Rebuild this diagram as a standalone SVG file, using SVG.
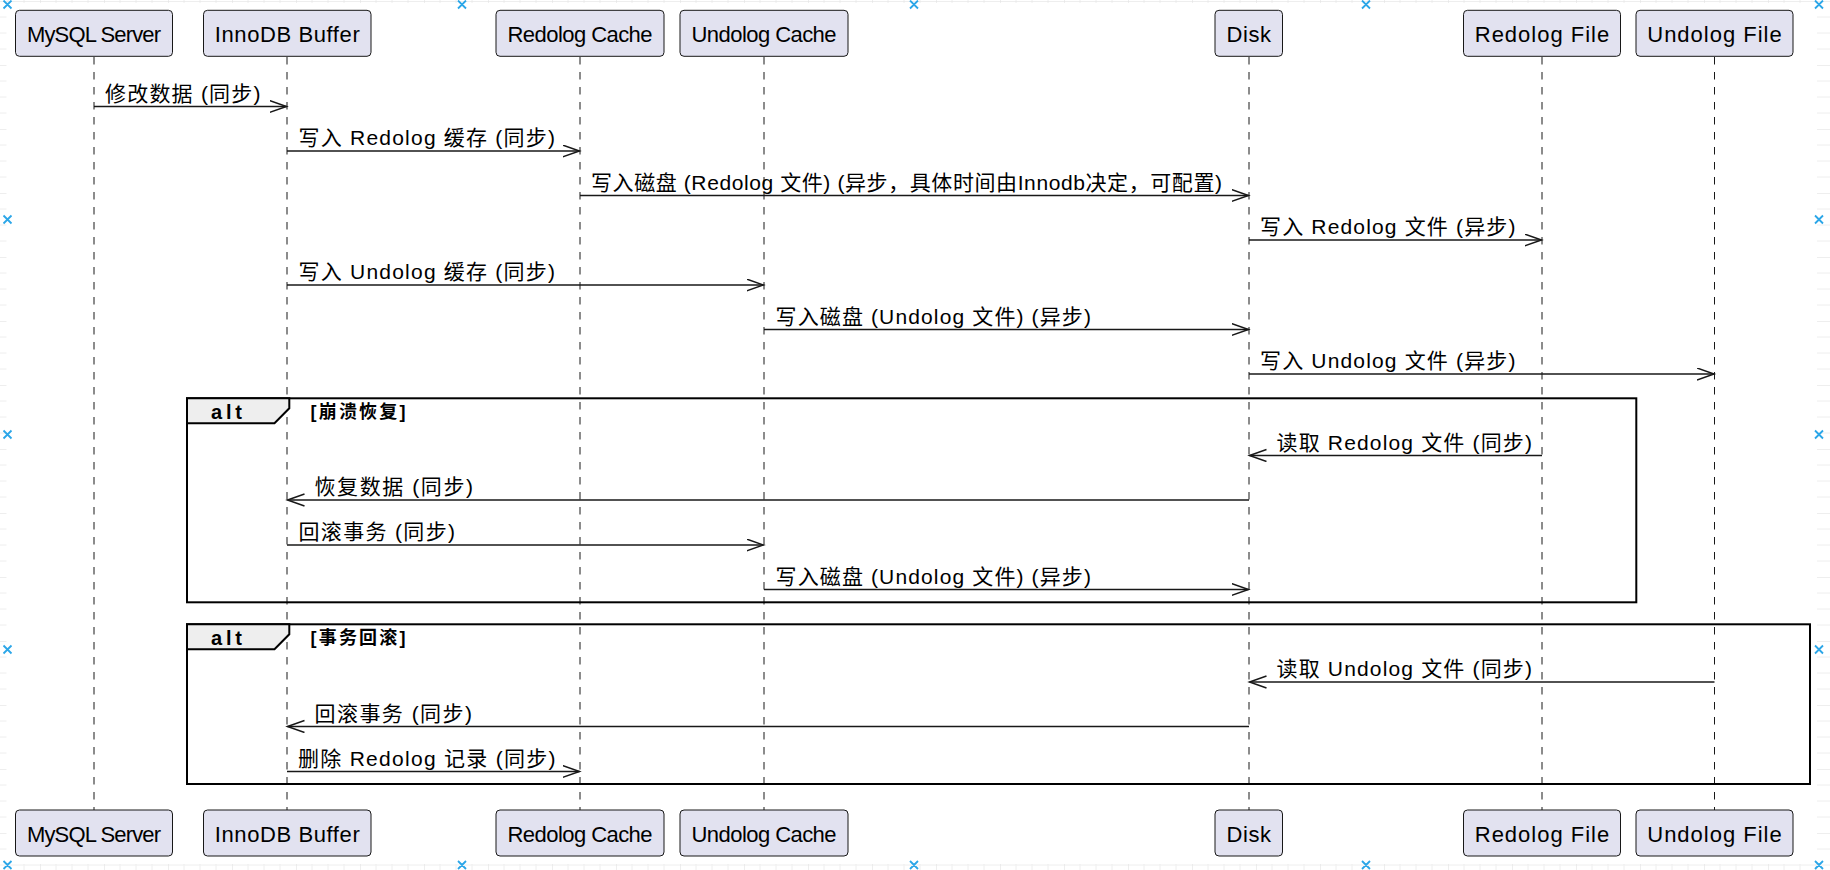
<svg xmlns="http://www.w3.org/2000/svg" width="1830" height="870" viewBox="0 0 1830 870">
<style>
.pbox{fill:#E2E2F0;stroke:#181818;stroke-width:1}
.ptxt{font-family:"Liberation Sans","Noto Sans CJK SC",sans-serif;font-size:22px;fill:#000;text-anchor:middle}
.life{stroke:#181818;stroke-width:1;stroke-dasharray:7.5,7.5;fill:none}
.msg{stroke:#181818;stroke-width:1.5;fill:none}
.mtxt{font-family:"Liberation Sans","Noto Sans CJK SC",sans-serif;font-size:21px;fill:#000}
.frame{fill:none;stroke:#000;stroke-width:2}
.tab{fill:#EEEEEE;stroke:#000;stroke-width:2}
.alt{font-family:"Liberation Sans","Noto Sans CJK SC",sans-serif;font-size:20px;font-weight:bold;fill:#000}
.guard{font-family:"Liberation Sans","Noto Sans CJK SC",sans-serif;font-size:18px;font-weight:bold;fill:#000}
.hx{stroke:#2BA6E8;stroke-width:1.8;fill:none}
</style>
<defs>
<marker id="open" markerUnits="userSpaceOnUse" markerWidth="20" markerHeight="14" refX="17" refY="6.5" orient="auto">
<path d="M0,0.5 L17,6.5 L0,12.5" fill="none" stroke="#181818" stroke-width="1.5"/>
</marker>
<pattern id="grid" patternUnits="userSpaceOnUse" x="-24" y="1" width="64" height="64">
<path d="M16,0V64M32,0V64M48,0V64M0,16H64M0,32H64M0,48H64" stroke="#eeeeee" stroke-width="1" fill="none"/>
<path d="M0,0V64M0,0H64" stroke="#dedede" stroke-width="1" fill="none"/>
</pattern>
</defs>
<rect x="0" y="0" width="1830" height="870" fill="#ffffff"/>
<rect x="0" y="0" width="1830" height="870" fill="url(#grid)"/>
<rect x="6.5" y="3" width="1810.5" height="861" fill="#ffffff"/>

<g id="p-mysql">
<line class="life" x1="94" y1="57" x2="94" y2="810"/>
<rect class="pbox" x="15.5" y="10.3" width="157" height="46" rx="4"/>
<text class="ptxt" x="94" y="42.3" textLength="134" lengthAdjust="spacing">MySQL Server</text>
<rect class="pbox" x="15.5" y="810" width="157" height="46" rx="4"/>
<text class="ptxt" x="94" y="842" textLength="134" lengthAdjust="spacing">MySQL Server</text>
</g>
<g id="p-innodb">
<line class="life" x1="287" y1="57" x2="287" y2="810"/>
<rect class="pbox" x="203.5" y="10.3" width="167.5" height="46" rx="4"/>
<text class="ptxt" x="287.25" y="42.3" textLength="145" lengthAdjust="spacing">InnoDB Buffer</text>
<rect class="pbox" x="203.5" y="810" width="167.5" height="46" rx="4"/>
<text class="ptxt" x="287.25" y="842" textLength="145" lengthAdjust="spacing">InnoDB Buffer</text>
</g>
<g id="p-redocache">
<line class="life" x1="580" y1="57" x2="580" y2="810"/>
<rect class="pbox" x="496" y="10.3" width="168" height="46" rx="4"/>
<text class="ptxt" x="580" y="42.3" textLength="145" lengthAdjust="spacing">Redolog Cache</text>
<rect class="pbox" x="496" y="810" width="168" height="46" rx="4"/>
<text class="ptxt" x="580" y="842" textLength="145" lengthAdjust="spacing">Redolog Cache</text>
</g>
<g id="p-undocache">
<line class="life" x1="764" y1="57" x2="764" y2="810"/>
<rect class="pbox" x="680" y="10.3" width="168" height="46" rx="4"/>
<text class="ptxt" x="764" y="42.3" textLength="145" lengthAdjust="spacing">Undolog Cache</text>
<rect class="pbox" x="680" y="810" width="168" height="46" rx="4"/>
<text class="ptxt" x="764" y="842" textLength="145" lengthAdjust="spacing">Undolog Cache</text>
</g>
<g id="p-disk">
<line class="life" x1="1249" y1="57" x2="1249" y2="810"/>
<rect class="pbox" x="1215" y="10.3" width="67.5" height="46" rx="4"/>
<text class="ptxt" x="1248.75" y="42.3" textLength="44.5" lengthAdjust="spacing">Disk</text>
<rect class="pbox" x="1215" y="810" width="67.5" height="46" rx="4"/>
<text class="ptxt" x="1248.75" y="842" textLength="44.5" lengthAdjust="spacing">Disk</text>
</g>
<g id="p-redofile">
<line class="life" x1="1542" y1="57" x2="1542" y2="810"/>
<rect class="pbox" x="1463.5" y="10.3" width="157" height="46" rx="4"/>
<text class="ptxt" x="1542" y="42.3" textLength="134.5" lengthAdjust="spacing">Redolog File</text>
<rect class="pbox" x="1463.5" y="810" width="157" height="46" rx="4"/>
<text class="ptxt" x="1542" y="842" textLength="134.5" lengthAdjust="spacing">Redolog File</text>
</g>
<g id="p-undofile">
<line class="life" x1="1714.5" y1="57" x2="1714.5" y2="810"/>
<rect class="pbox" x="1636" y="10.3" width="157" height="46" rx="4"/>
<text class="ptxt" x="1714.5" y="42.3" textLength="134.5" lengthAdjust="spacing">Undolog File</text>
<rect class="pbox" x="1636" y="810" width="157" height="46" rx="4"/>
<text class="ptxt" x="1714.5" y="842" textLength="134.5" lengthAdjust="spacing">Undolog File</text>
</g>

<g id="alt-crash">
<rect class="frame" x="187" y="398.3" width="1449.3" height="204"/>
<polygon class="tab" points="187,398.3 289.3,398.3 289.3,408.3 274.5,423.3 187,423.3"/>
<text class="alt" x="211" y="419.3" textLength="31" lengthAdjust="spacing">alt</text>
<text class="guard" x="310.5" y="418.3" textLength="95" lengthAdjust="spacing">[崩溃恢复]</text>
</g>
<g id="alt-rollback">
<rect class="frame" x="187" y="624.3" width="1623" height="159.7"/>
<polygon class="tab" points="187,624.3 289.3,624.3 289.3,634.3 274.5,649.3 187,649.3"/>
<text class="alt" x="211" y="645.3" textLength="31" lengthAdjust="spacing">alt</text>
<text class="guard" x="310.5" y="644.3" textLength="95" lengthAdjust="spacing">[事务回滚]</text>
</g>

<g id="connectors">
<line class="msg" x1="94" y1="106.5" x2="286.5" y2="106.5" marker-end="url(#open)"/>
<text class="mtxt" x="105" y="100.5" textLength="155.5" lengthAdjust="spacing">修改数据 (同步)</text>

<line class="msg" x1="287" y1="151" x2="579.5" y2="151" marker-end="url(#open)"/>
<text class="mtxt" x="298.5" y="145" textLength="256.5" lengthAdjust="spacing">写入 Redolog 缓存 (同步)</text>

<line class="msg" x1="580" y1="195.5" x2="1248.5" y2="195.5" marker-end="url(#open)"/>
<text class="mtxt" x="591" y="189.5" textLength="631" lengthAdjust="spacing">写入磁盘 (Redolog 文件) (异步，具体时间由Innodb决定，可配置)</text>

<line class="msg" x1="1249" y1="240" x2="1541.5" y2="240" marker-end="url(#open)"/>
<text class="mtxt" x="1260" y="234" textLength="255.5" lengthAdjust="spacing">写入 Redolog 文件 (异步)</text>

<line class="msg" x1="287" y1="285" x2="763.5" y2="285" marker-end="url(#open)"/>
<text class="mtxt" x="298.5" y="279" textLength="256.5" lengthAdjust="spacing">写入 Undolog 缓存 (同步)</text>

<line class="msg" x1="764" y1="329.5" x2="1248.5" y2="329.5" marker-end="url(#open)"/>
<text class="mtxt" x="775.5" y="323.5" textLength="315.5" lengthAdjust="spacing">写入磁盘 (Undolog 文件) (异步)</text>

<line class="msg" x1="1249" y1="374" x2="1714" y2="374" marker-end="url(#open)"/>
<text class="mtxt" x="1260" y="368" textLength="255.5" lengthAdjust="spacing">写入 Undolog 文件 (异步)</text>

<line class="msg" x1="1542" y1="455.5" x2="1249.5" y2="455.5" marker-end="url(#open)"/>
<text class="mtxt" x="1276.5" y="449.5" textLength="255.5" lengthAdjust="spacing">读取 Redolog 文件 (同步)</text>

<line class="msg" x1="1249" y1="500" x2="287.5" y2="500" marker-end="url(#open)"/>
<text class="mtxt" x="314.5" y="494" textLength="158.5" lengthAdjust="spacing">恢复数据 (同步)</text>

<line class="msg" x1="287" y1="545" x2="763.5" y2="545" marker-end="url(#open)"/>
<text class="mtxt" x="298.5" y="539" textLength="156.5" lengthAdjust="spacing">回滚事务 (同步)</text>

<line class="msg" x1="764" y1="589.5" x2="1248.5" y2="589.5" marker-end="url(#open)"/>
<text class="mtxt" x="775.5" y="583.5" textLength="315.5" lengthAdjust="spacing">写入磁盘 (Undolog 文件) (异步)</text>

<line class="msg" x1="1714.5" y1="682" x2="1249.5" y2="682" marker-end="url(#open)"/>
<text class="mtxt" x="1276.5" y="676" textLength="255.5" lengthAdjust="spacing">读取 Undolog 文件 (同步)</text>

<line class="msg" x1="1249" y1="726.5" x2="287.5" y2="726.5" marker-end="url(#open)"/>
<text class="mtxt" x="314.5" y="720.5" textLength="157.5" lengthAdjust="spacing">回滚事务 (同步)</text>

<line class="msg" x1="287" y1="771.5" x2="579.5" y2="771.5" marker-end="url(#open)"/>
<text class="mtxt" x="298" y="765.5" textLength="257.5" lengthAdjust="spacing">删除 Redolog 记录 (同步)</text>
</g>

<g id="handles">
<path class="hx" d="M3.5,0.5l8,8m0,-8l-8,8 M458,0.5l8,8m0,-8l-8,8 M910,0.5l8,8m0,-8l-8,8 M1362,0.5l8,8m0,-8l-8,8 M1815,0.5l8,8m0,-8l-8,8"/>
<path class="hx" d="M3.5,215.5l8,8m0,-8l-8,8 M3.5,430.5l8,8m0,-8l-8,8 M3.5,645.5l8,8m0,-8l-8,8 M1815,215.5l8,8m0,-8l-8,8 M1815,430.5l8,8m0,-8l-8,8 M1815,645.5l8,8m0,-8l-8,8"/>
<path class="hx" d="M3.5,861l8,8m0,-8l-8,8 M458,861l8,8m0,-8l-8,8 M910,861l8,8m0,-8l-8,8 M1362,861l8,8m0,-8l-8,8 M1815,861l8,8m0,-8l-8,8"/>
</g>
</svg>
